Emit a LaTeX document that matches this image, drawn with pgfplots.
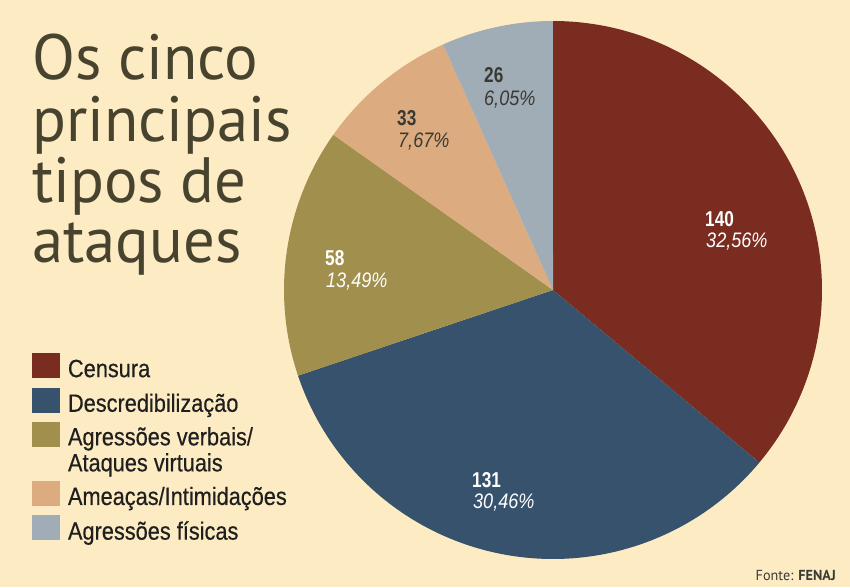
\documentclass[border=0pt]{standalone}
\usepackage{pgfplots}
\pgfplotsset{compat=1.18}
\usepackage{fontspec}
\setmainfont{Liberation Sans}
\newfontfamily\cond{Liberation Sans}[FakeStretch=0.87, FakeBold=0.4]
\newfontfamily\condb{Liberation Sans Bold}[FakeStretch=0.80]
\newfontfamily\condi{Liberation Sans Italic}[FakeStretch=0.86]
\newfontfamily\titlefont{PT Sans}[FakeStretch=0.98]
\definecolor{bgc}{HTML}{FDECC3}
\definecolor{ccens}{HTML}{7A2C20}
\definecolor{cdesc}{HTML}{37526C}
\definecolor{cverb}{HTML}{A18F4D}
\definecolor{cameac}{HTML}{DCAB7F}
\definecolor{cfis}{HTML}{A0ACB6}
\definecolor{ctitle}{HTML}{47432F}
\definecolor{cdark}{HTML}{3A3A35}
\newcommand\legfont{\cond\fontsize{25}{26}\selectfont}
\newcommand\tfont{\titlefont\fontsize{64}{64}\selectfont}
\newcommand\numfont{\condb\fontsize{21.5}{21}\selectfont}
\newcommand\pctfont{\condi\fontsize{21}{21}\selectfont}
\pgfplotsset{
  onelegend/.style={legend image code/.code={\fill[##1] (0pt,-9.2pt) rectangle (28pt,15.8pt); \path (0pt,-15.8pt) (0pt,15.8pt);}},
  twolegend/.style={legend image code/.code={\fill[##1] (0pt,2.8pt) rectangle (28pt,27.8pt); \path (0pt,-27.8pt) (0pt,27.8pt);}},
}
\begin{document}
\begin{tikzpicture}
% counts of each category (total 388)
\def\total{388}
\pgfmathsetmacro\aA{90}
\pgfmathsetmacro\aB{\aA-140/\total*360}
\pgfmathsetmacro\aC{\aB-131/\total*360}
\pgfmathsetmacro\aD{\aC-58/\total*360}
\pgfmathsetmacro\aE{\aD-33/\total*360}
\pgfmathsetmacro\aF{\aE-26/\total*360}
\begin{axis}[
  width=850pt, height=587pt, scale only axis,
  xmin=0, xmax=850, ymin=0, ymax=587,
  hide axis, clip=false,
  legend style={at={(axis cs:32,234)}, anchor=north west, draw=none, fill=none,
    inner sep=0pt, outer sep=0pt, row sep=3pt, column sep=8pt,
    font=\legfont, text=black!88,
    nodes={inner sep=0pt, outer sep=0pt},
    cells={align=left}},
  legend cell align=left,
  onelegend,
]
\fill[bgc] (rel axis cs:0,0) rectangle (rel axis cs:1,1);
\addplot[fill=ccens, draw=none, domain=\aB:\aA, samples=120, variable=\t]
  ({553+269*cos(t)}, {297+269*sin(t)}) -- (axis cs:553,297) -- cycle;
\addlegendentry{\strut Censura}
\addplot[fill=cdesc, draw=none, domain=\aC:\aB, samples=120, variable=\t]
  ({553+269*cos(t)}, {297+269*sin(t)}) -- (axis cs:553,297) -- cycle;
\addlegendentry{\strut Descredibilização}
\addplot[fill=cverb, draw=none, domain=\aD:\aC, samples=80, variable=\t, twolegend]
  ({553+269*cos(t)}, {297+269*sin(t)}) -- (axis cs:553,297) -- cycle;
\addlegendentry{\strut Agressões verbais/\\\strut Ataques virtuais}
\addplot[fill=cameac, draw=none, domain=\aE:\aD, samples=60, variable=\t]
  ({553+269*cos(t)}, {297+269*sin(t)}) -- (axis cs:553,297) -- cycle;
\addlegendentry{\strut Ameaças/Intimidações}
\addplot[fill=cfis, draw=none, domain=\aF:\aE, samples=60, variable=\t]
  ({553+269*cos(t)}, {297+269*sin(t)}) -- (axis cs:553,297) -- cycle;
\addlegendentry{\strut Agressões físicas}

% title
\node[anchor=base west, inner sep=0pt, text=ctitle, font=\tfont] at (axis cs:32,507) {Os cinco};
\node[anchor=base west, inner sep=0pt, text=ctitle, font=\tfont] at (axis cs:32,445.5) {principais};
\node[anchor=base west, inner sep=0pt, text=ctitle, font=\tfont] at (axis cs:32,384) {tipos de};
\node[anchor=base west, inner sep=0pt, text=ctitle, font=\tfont] at (axis cs:32,324) {ataques};
% slice labels
\node[anchor=base west, inner sep=0pt, text=white, font=\numfont] at (axis cs:705,360) {140};
\node[anchor=base west, inner sep=0pt, text=white, font=\pctfont] at (axis cs:706,340) {32,56\%};
\node[anchor=base west, inner sep=0pt, text=white, font=\numfont] at (axis cs:472,100) {131};
\node[anchor=base west, inner sep=0pt, text=white, font=\pctfont] at (axis cs:473,79) {30,46\%};
\node[anchor=base west, inner sep=0pt, text=white, font=\numfont] at (axis cs:325,322) {58};
\node[anchor=base west, inner sep=0pt, text=white, font=\pctfont] at (axis cs:326,300) {13,49\%};
\node[anchor=base west, inner sep=0pt, text=cdark, font=\numfont] at (axis cs:397,461) {33};
\node[anchor=base west, inner sep=0pt, text=cdark, font=\pctfont] at (axis cs:398,439) {7,67\%};
\node[anchor=base west, inner sep=0pt, text=cdark, font=\numfont] at (axis cs:484,504) {26};
\node[anchor=base west, inner sep=0pt, text=cdark, font=\pctfont] at (axis cs:484,481) {6,05\%};
% source
\node[anchor=base east, inner sep=0pt, text=cdark, font=\titlefont\fontsize{14.5}{14.5}\selectfont] at (axis cs:836,7) {Fonte: \textbf{FENAJ}};
\end{axis}
\end{tikzpicture}
\end{document}
